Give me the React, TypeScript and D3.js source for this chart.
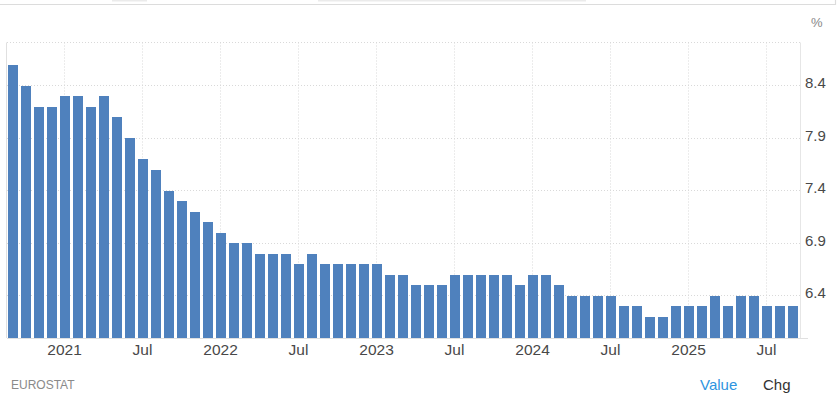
import { useRef, useEffect } from "react";
import * as d3 from "d3";

// monthly, Sep 2020 to Sep 2025
const months = d3.range(61).map((i) => {
  const total = 2020 * 12 + 8 + i;
  return `${Math.floor(total / 12)}-${String((total % 12) + 1).padStart(2, "0")}`;
});

const values = [
  8.6, 8.4, 8.2, 8.2, 8.3, 8.3, 8.2, 8.3, 8.1, 7.9, 7.7, 7.6, 7.4, 7.3, 7.2, 7.1,
  7.0, 6.9, 6.9, 6.8, 6.8, 6.8, 6.7, 6.8, 6.7, 6.7, 6.7, 6.7, 6.7, 6.6, 6.6, 6.5,
  6.5, 6.5, 6.6, 6.6, 6.6, 6.6, 6.6, 6.5, 6.6, 6.6, 6.5, 6.4, 6.4, 6.4, 6.4, 6.3,
  6.3, 6.2, 6.2, 6.3, 6.3, 6.3, 6.4, 6.3, 6.4, 6.4, 6.3, 6.3, 6.3,
];

const yTicks = [6.4, 6.9, 7.4, 7.9, 8.4];
const xTicks = [
  "2021-01", "2021-07", "2022-01", "2022-07", "2023-01", "2023-07",
  "2024-01", "2024-07", "2025-01", "2025-07",
];

const W = 838;
const H = 402;
const margin = { top: 42.5, right: 38, bottom: 64, left: 7 };
const FONT = "'Liberation Sans', Arial, sans-serif";

const xLabel = (m: string) => (m.endsWith("-01") ? m.slice(0, 4) : "Jul");

export default function App() {
  const svgRef = useRef<SVGSVGElement>(null);

  useEffect(() => {
    if (!svgRef.current) return;
    const svg = d3.select(svgRef.current);
    svg.selectAll("*").remove();

    const x = d3
      .scaleBand()
      .domain(months)
      .range([margin.left, W - margin.right])
      .paddingInner(0.23)
      .paddingOuter(0.115);
    const y = d3
      .scaleLinear()
      .domain([6.0, 8.814])
      .range([H - margin.bottom, margin.top]);

    const bottom = H - margin.bottom;
    const right = W - margin.right;
    const midX = (m: string) => (x(m) || 0) + x.bandwidth() / 2;

    // leftover page frame above the chart
    svg.append("path")
      .attr("d", `M0,4.5H835.5V0`)
      .attr("fill", "none")
      .attr("stroke", "#dcdcdc")
      .attr("stroke-width", 1.2);
    svg.append("g")
      .selectAll("rect")
      .data([[112, 35], [318, 268]])
      .join("rect")
      .attr("x", (d) => d[0])
      .attr("y", 0)
      .attr("width", (d) => d[1])
      .attr("height", 1.5)
      .attr("fill", "#ebebeb");

    // Grid lines
    svg.append("g")
      .selectAll("line")
      .data([...yTicks, 8.814])
      .join("line")
      .attr("x1", margin.left)
      .attr("x2", right)
      .attr("y1", (d) => Math.floor(y(d)) + 0.5)
      .attr("y2", (d) => Math.floor(y(d)) + 0.5)
      .attr("stroke", "#d9d9d9")
      .attr("stroke-dasharray", "1,2");
    svg.append("g")
      .selectAll("line")
      .data(xTicks)
      .join("line")
      .attr("x1", (d) => Math.floor(midX(d)) - 0.5)
      .attr("x2", (d) => Math.floor(midX(d)) - 0.5)
      .attr("y1", margin.top)
      .attr("y2", bottom)
      .attr("stroke", "#d9d9d9")
      .attr("stroke-dasharray", "1,2");

    // Bars
    svg.append("g")
      .selectAll("rect")
      .data(values)
      .join("rect")
      .attr("x", (_, i) => Math.floor(x(months[i]) || 0))
      .attr("y", (d) => Math.round(y(d)))
      .attr("width", Math.round(x.bandwidth()))
      .attr("height", (d) => bottom - Math.round(y(d)))
      .attr("fill", "#4f81bd");

    // Y axis
    svg.append("g")
      .attr("transform", `translate(${right},-3)`)
      .call(d3.axisRight(y).tickValues(yTicks).tickSize(0).tickPadding(5).tickFormat(d3.format(".1f")))
      .call((a) => a.select(".domain").remove())
      .selectAll("text")
      .style("font-family", FONT)
      .style("font-size", "15px")
      .style("fill", "#484848");

    // X axis
    svg.append("g")
      .attr("transform", `translate(-1,${bottom})`)
      .call(d3.axisBottom(x).tickValues(xTicks).tickSize(0).tickPadding(6).tickFormat(xLabel))
      .call((a) => a.select(".domain").remove())
      .selectAll("text")
      .style("font-family", FONT)
      .style("font-size", "15.5px")
      .style("fill", "#484848");

    // Frame lines
    svg.append("line")
      .attr("x1", margin.left - 0.5).attr("x2", margin.left - 0.5)
      .attr("y1", margin.top).attr("y2", bottom)
      .attr("stroke", "#e0e0e0");
    svg.append("line")
      .attr("x1", right + 0.5).attr("x2", right + 0.5)
      .attr("y1", margin.top).attr("y2", bottom)
      .attr("stroke", "#e6e6e6");
    svg.append("line")
      .attr("x1", margin.left).attr("x2", right + 8)
      .attr("y1", bottom + 0.5).attr("y2", bottom + 0.5)
      .attr("stroke", "#e0e0e0");

    // Unit, source and tabs
    const label = (tx: number, ty: number, text: string, size: number, fill: string) =>
      svg.append("text")
        .attr("x", tx)
        .attr("y", ty)
        .style("font-family", FONT)
        .style("font-size", `${size}px`)
        .style("fill", fill)
        .text(text);

    label(811, 27, "%", 13, "#888");
    label(11, 389, "EUROSTAT", 12, "#8a8a8a");
    label(700, 390, "Value", 15, "#2e94e0");
    label(763, 390, "Chg", 15, "#333");
  }, []);

  return (
    <svg
      ref={svgRef}
      width={W}
      height={H}
      style={{ position: "absolute", left: 0, top: 0, background: "#fff" }}
    />
  );
}
